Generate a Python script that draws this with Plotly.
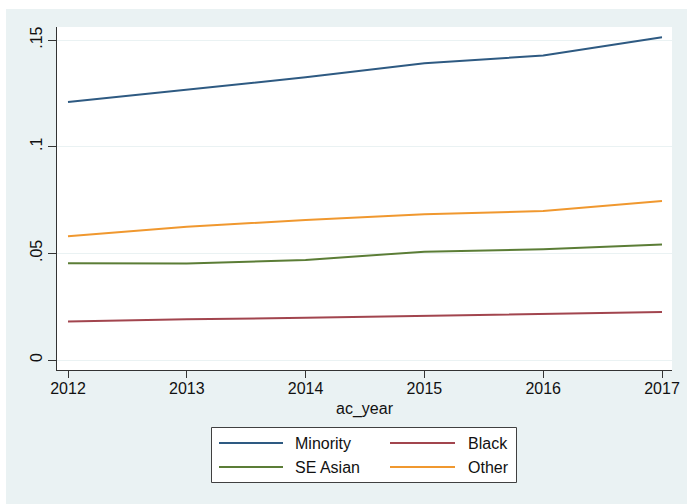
import plotly.graph_objects as go

# Share of students by group, per academic year
years = [2012, 2013, 2014, 2015, 2016, 2017]
minority = [0.1209, 0.1268, 0.1325, 0.1391, 0.1427, 0.1513]
black = [0.0180, 0.0191, 0.0198, 0.0206, 0.0214, 0.0225]
se_asian = [0.0453, 0.0452, 0.0469, 0.0508, 0.0519, 0.0542]
other = [0.0580, 0.0625, 0.0656, 0.0683, 0.0698, 0.0745]

y_tickvals = [0, 0.05, 0.1, 0.15]
y_ticktext = ["0", ".05", ".1", ".15"]

series = [
    ("Minority", minority, "#2E5A82"),
    ("Black", black, "#A2454E"),
    ("SE Asian", se_asian, "#5B7D36"),
    ("Other", other, "#F0982F"),
]

W, H = 687, 504
ML, MR, MT, MB = 57, 15, 27, 134
PW = W - ML - MR
PH = H - MT - MB
FONT = "Liberation Sans, Arial, sans-serif"


def px(x):
    return (x - ML) / PW


def py(y):
    return (MT + PH - y) / PH


fig = go.Figure()
for name, vals, color in series:
    fig.add_trace(go.Scatter(
        x=years, y=vals, name=name, mode="lines",
        line=dict(color=color, width=2),
        showlegend=False,
    ))

bg = "#EAF2F3"

shapes = [
    # white strips around the graph region
    dict(type="rect", xref="paper", yref="paper", layer="above",
         x0=px(-2), x1=px(6), y0=py(H + 2), y1=py(-2),
         fillcolor="white", line=dict(width=0)),
    dict(type="rect", xref="paper", yref="paper", layer="above",
         x0=px(-2), x1=px(W + 2), y0=py(9), y1=py(-2),
         fillcolor="white", line=dict(width=0)),
    # legend frame
    dict(type="rect", xref="paper", yref="paper", layer="above",
         x0=px(211.5), x1=px(516.5), y0=py(482.5), y1=py(427.5),
         fillcolor="white", line=dict(color="#404040", width=1)),
]
annotations = []

# two-column key: Minority, Black / SE Asian, Other
cols = [(219, 283, 293), (390, 455, 466)]
rows = [443, 467]
for i, (name, vals, color) in enumerate(series):
    lx0, lx1, tx = cols[i % 2]
    ry = rows[i // 2]
    shapes.append(dict(type="line", xref="paper", yref="paper", layer="above",
                       x0=px(lx0), x1=px(lx1), y0=py(ry), y1=py(ry),
                       line=dict(color=color, width=2)))
    annotations.append(dict(xref="paper", yref="paper", x=px(tx), y=py(ry),
                            xanchor="left", yanchor="middle", showarrow=False,
                            text=name, font=dict(family=FONT, size=16, color="#111111")))

fig.update_layout(
    width=W, height=H,
    margin=dict(l=ML, r=MR, t=MT, b=MB, autoexpand=False),
    paper_bgcolor=bg,
    plot_bgcolor="white",
    font=dict(family=FONT, size=16, color="#111111"),
    showlegend=False,
    xaxis=dict(
        range=[2012 - 11 / 118.8, 2017 + 10 / 118.8],
        tickvals=years,
        ticks="outside", ticklen=7, tickcolor="#333333", tickwidth=1,
        ticklabelstandoff=-3,
        showline=True, linecolor="#333333", linewidth=1,
        showgrid=False, zeroline=False,
        title=dict(text="ac_year", font=dict(size=16), standoff=6),
    ),
    yaxis=dict(
        range=[-10 / 2133.3, 333 / 2133.3],
        tickvals=y_tickvals, ticktext=y_ticktext,
        tickangle=-90,
        ticks="outside", ticklen=8, tickcolor="#333333", tickwidth=1,
        showline=True, linecolor="#333333", linewidth=1,
        showgrid=True, gridcolor=bg, gridwidth=1,
        zeroline=False,
    ),
    shapes=shapes,
    annotations=annotations,
)

fig.write_html("out.html")
